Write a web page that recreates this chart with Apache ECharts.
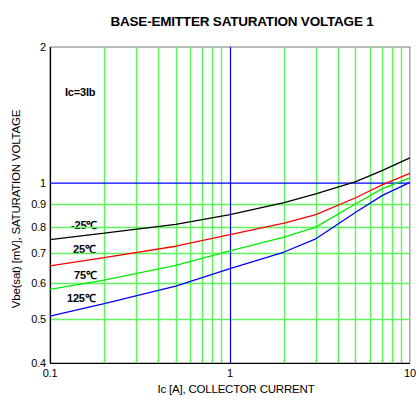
<!DOCTYPE html>
<html>
<head>
<meta charset="utf-8">
<script src="https://cdn.jsdelivr.net/npm/echarts@6/dist/echarts.min.js"></script>
<style>
html,body{margin:0;padding:0;background:#fff;}
#c{width:419px;height:405px;}
#c text{letter-spacing:-0.2px;}
</style>
</head>
<body>
<div id="c"></div>
<script>
// Data
var xVals = [0.1, 0.2, 0.5, 1, 2, 3, 5, 7, 10];
var vbeM25 = [0.750, 0.775, 0.810, 0.852, 0.905, 0.947, 1.008, 1.066, 1.137];
var vbe25  = [0.656, 0.684, 0.725, 0.769, 0.816, 0.852, 0.928, 0.991, 1.051];
var vbe75  = [0.582, 0.610, 0.658, 0.708, 0.759, 0.799, 0.900, 0.971, 1.027];
var vbe125 = [0.508, 0.541, 0.592, 0.647, 0.704, 0.753, 0.862, 0.938, 1.004];
var seriesNames = ['-25℃', '25℃', '75℃', '125℃'];
var xGrid = [0.2, 0.3, 0.4, 0.5, 0.6, 0.7, 0.8, 0.9, 2, 3, 4, 5, 6, 7, 8, 9];
var yGrid = [0.5, 0.6, 0.7, 0.8, 0.9];
var yTicks = [0.4, 0.5, 0.6, 0.7, 0.8, 0.9, 1, 2];
var yTickLabels = ['0.4', '0.5', '0.6', '0.7', '0.8', '0.9', '1', '2'];
var refX = [1];
var refY = [1];
var xMin = 0.1, xMax = 10, yMin = 0.4, yMax = 2;

function pairs(ys) { return xVals.map(function (x, i) { return [x, ys[i]]; }); }

var gridGreen = '#5cf55c';
var FONT = 'Liberation Sans, Arial, sans-serif';

var vData = xGrid.map(function (v) {
  return { xAxis: v, lineStyle: { color: gridGreen, width: 1.4, type: 'solid' } };
});

var hData = yTicks.map(function (v, i) {
  var isGrid = yGrid.indexOf(v) >= 0;
  return {
    yAxis: v,
    lineStyle: { color: isGrid ? gridGreen : 'rgba(255,255,255,0)', width: 1.4, type: 'solid' },
    label: { show: true, position: 'start', formatter: yTickLabels[i], color: '#000', fontSize: 11, fontFamily: FONT, distance: 4 }
  };
});

var blueData = refX.map(function (v) { return { xAxis: v }; });
var axisData = [{ xAxis: xMin }, { yAxis: yMin }];

var colors = ['#000000', '#ff0000', '#00ee00', '#0000ff'];
var curves = [vbeM25, vbe25, vbe75, vbe125];

var series = [{
  type: 'line', data: [], z: 1, silent: true,
  markLine: { silent: true, symbol: 'none', animation: false, label: { show: false },
    lineStyle: { color: gridGreen }, data: vData }
}, {
  type: 'line', data: [], z: 1, silent: true,
  markLine: { silent: true, symbol: 'none', animation: false,
    lineStyle: { color: gridGreen }, data: hData }
}, {
  type: 'line', data: [], z: 20, silent: true,
  markLine: { silent: true, symbol: 'none', animation: false, label: { show: false },
    lineStyle: { color: '#0000ff', width: 1.2, type: 'solid' }, data: blueData }
}, {
  type: 'line', data: refY.map(function (v) { return [xMin, v]; }).concat(refY.map(function (v) { return [xMax, v]; })),
  z: 20, silent: true, showSymbol: false,
  lineStyle: { color: '#0000ff', width: 1.2 }, itemStyle: { color: '#0000ff' }
}, {
  type: 'line', data: [], z: 30, silent: true,
  markLine: { silent: true, symbol: 'none', animation: false, label: { show: false },
    lineStyle: { color: '#000', width: 1.2, type: 'solid' }, data: axisData }
}];
curves.forEach(function (c, i) {
  series.push({
    name: seriesNames[i], type: 'line', data: pairs(c), smooth: false,
    showSymbol: false, z: 25,
    lineStyle: { color: colors[i], width: 1.3 }, itemStyle: { color: colors[i] }
  });
});

var chart = echarts.init(document.getElementById('c'), null, { renderer: 'svg' });
chart.setOption({
  animation: false,
  backgroundColor: '#fff',
  color: colors,
  title: {
    text: 'BASE-EMITTER SATURATION VOLTAGE 1', left: 237, top: 9, textAlign: 'center',
    textStyle: { fontSize: 13.5, fontWeight: 'bold', fontFamily: FONT, color: '#000' }
  },
  grid: { left: 50, right: 7, top: 47, bottom: 42, show: true, borderColor: '#777', borderWidth: 1, backgroundColor: 'transparent' },
  xAxis: {
    type: 'log', logBase: 10, min: xMin, max: xMax,
    name: 'Ic [A], COLLECTOR CURRENT', nameLocation: 'middle', nameGap: 19,
    nameTextStyle: { fontSize: 11.5, fontFamily: FONT, color: '#000', padding: [0, 0, 0, 12] },
    axisLine: { show: false, onZero: false },
    axisTick: { show: true, inside: true, length: 3, customValues: xGrid, lineStyle: { color: '#222', width: 1.2 } },
    splitLine: { show: false },
    axisLabel: { fontSize: 11, fontFamily: FONT, color: '#000', margin: 4,
      formatter: function (v) { return String(+v.toPrecision(3)); } }
  },
  yAxis: {
    type: 'log', logBase: 10, min: yMin, max: yMax,
    name: 'Vbe(sat) [mV], SATURATION VOLTAGE', nameLocation: 'middle', nameGap: 28, nameRotate: 90,
    nameTextStyle: { fontSize: 11.5, fontFamily: FONT, color: '#000', padding: [0, 8, 0, 0] },
    axisLine: { show: false, onZero: false },
    axisTick: { show: false },
    splitLine: { show: false },
    axisLabel: { show: false }
  },
  graphic: [
    { type: 'text', left: 65, top: 86, style: { text: 'Ic=3Ib', fontSize: 11, fontWeight: 'bold', fontFamily: FONT, fill: '#000' } },
    { type: 'text', left: 71, top: 219, style: { text: seriesNames[0], fontSize: 11, fontWeight: 'bold', fontFamily: FONT, fill: '#000' } },
    { type: 'text', left: 73, top: 243, style: { text: seriesNames[1], fontSize: 11, fontWeight: 'bold', fontFamily: FONT, fill: '#000' } },
    { type: 'text', left: 74, top: 269, style: { text: seriesNames[2], fontSize: 11, fontWeight: 'bold', fontFamily: FONT, fill: '#000' } },
    { type: 'text', left: 67, top: 292, style: { text: seriesNames[3], fontSize: 11, fontWeight: 'bold', fontFamily: FONT, fill: '#000' } }
  ],
  series: series
});
</script>
</body>
</html>
